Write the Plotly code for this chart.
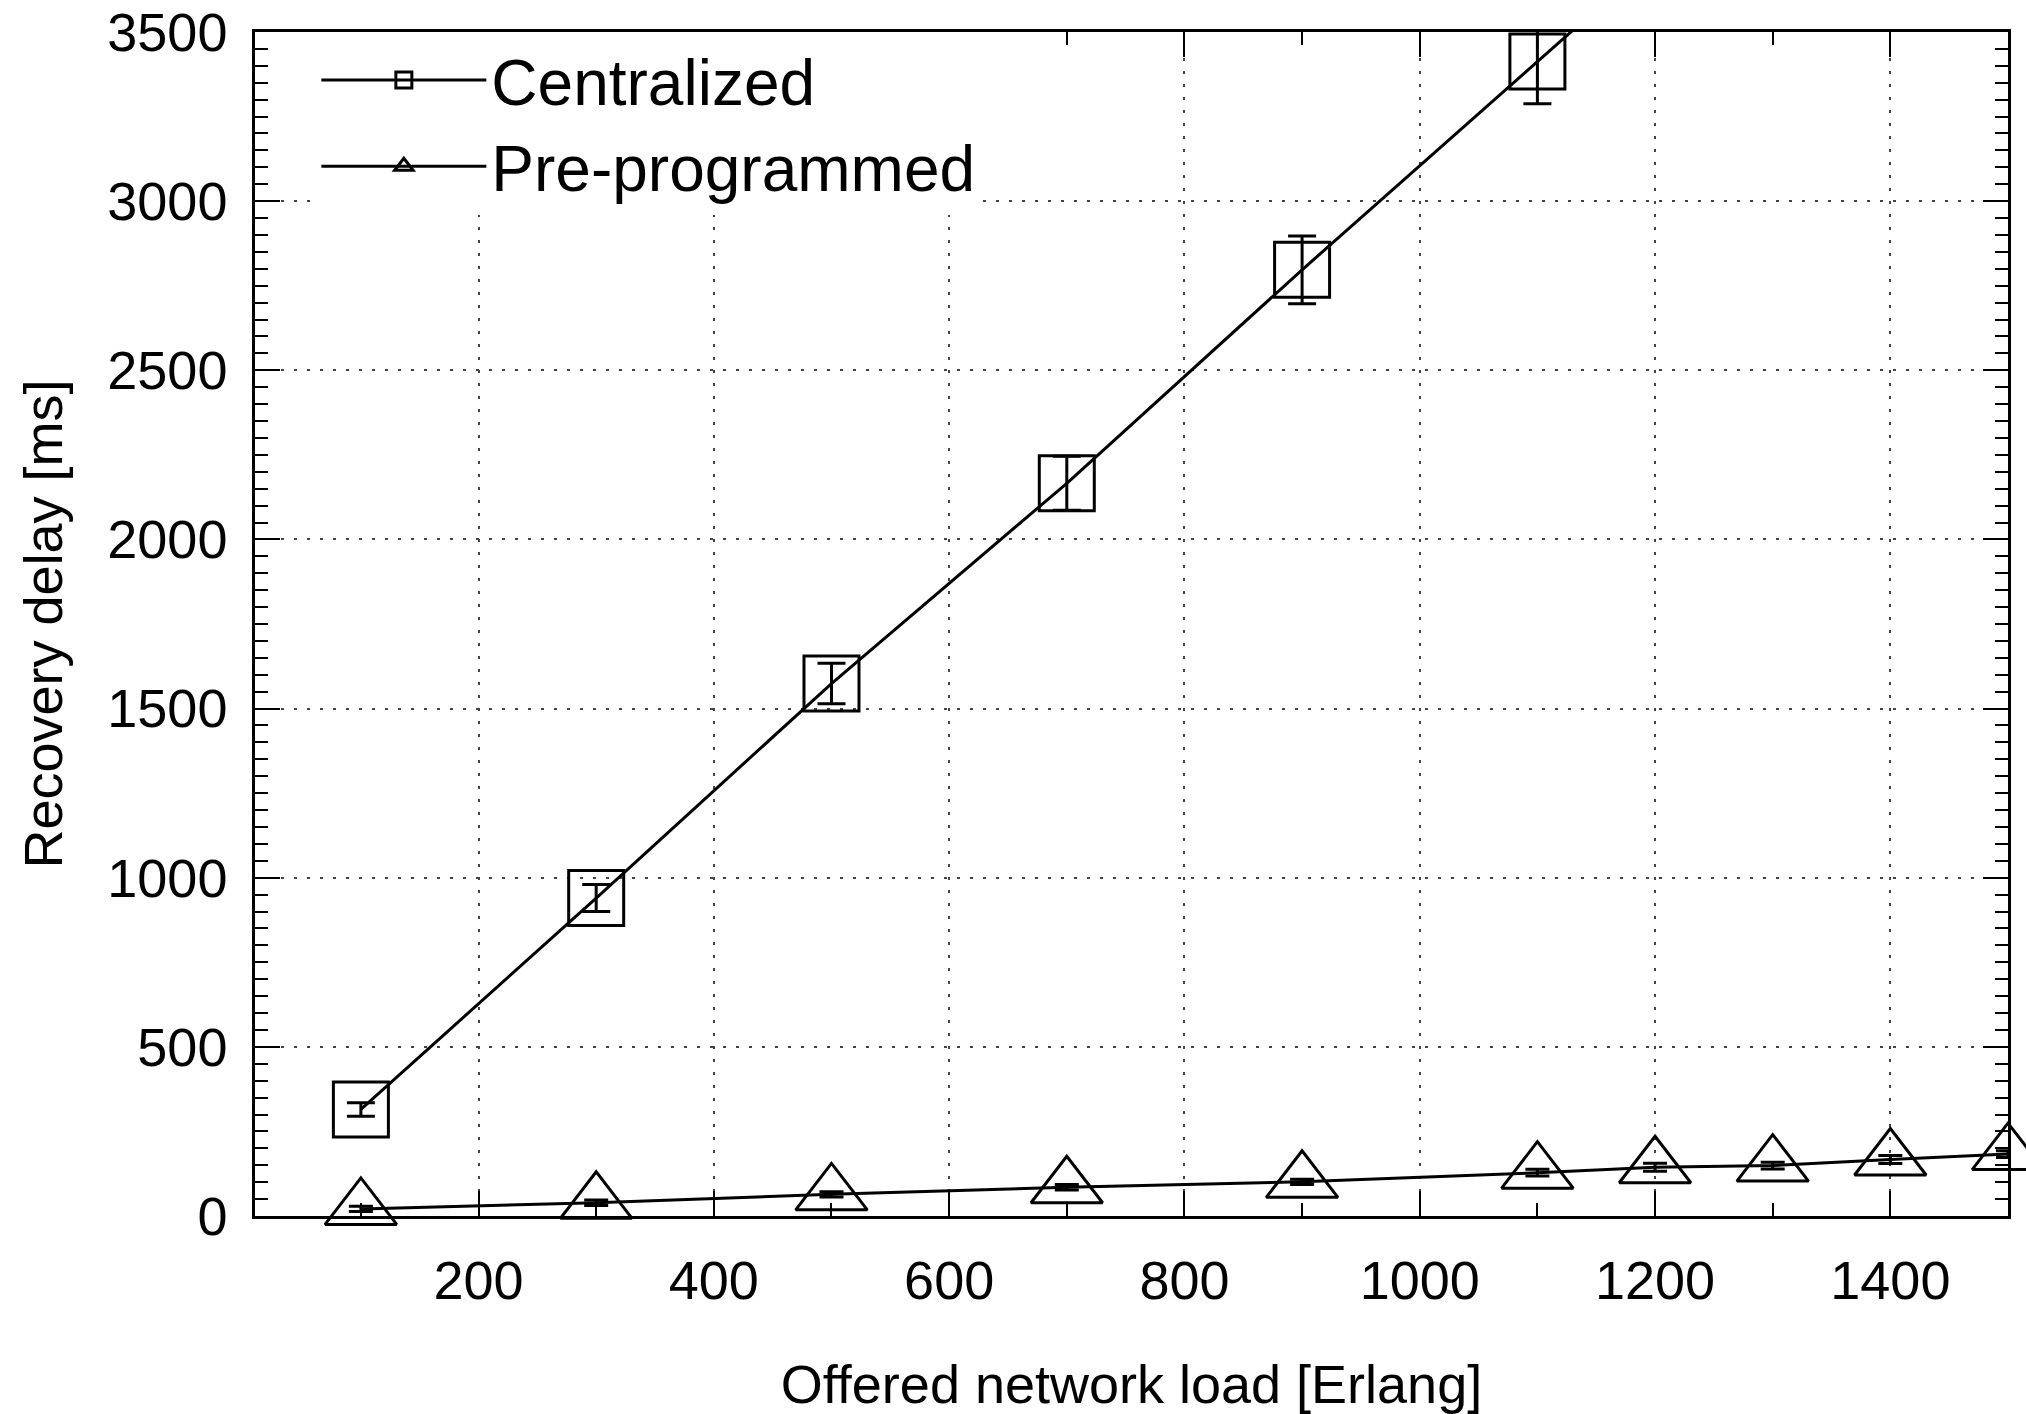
import plotly.graph_objects as go

# ---- data ----
load_centralized = [100, 300, 500, 700, 900, 1100, 1200]
delay_centralized = [315, 940, 1574, 2166, 2797, 3413, 3720]
err_centralized = [20, 40, 60, 80, 100, 125, 140]

load_preprog = [100, 300, 500, 700, 900, 1100, 1200, 1300, 1400, 1500]
delay_preprog = [21, 39, 64, 85, 101, 128, 144, 149, 167, 183]
err_preprog = [8, 8, 8, 8, 8, 10, 12, 10, 12, 10]

x_ticks = [200, 400, 600, 800, 1000, 1200, 1400]
y_ticks = [0, 500, 1000, 1500, 2000, 2500, 3000, 3500]

FONT = "Liberation Sans, Arial, Helvetica, sans-serif"
BLACK = "#000000"

fig = go.Figure()

fig.add_trace(go.Scatter(
    x=load_centralized, y=delay_centralized, name="Centralized",
    mode="lines+markers",
    line=dict(color=BLACK, width=3),
    marker=dict(symbol="square-open", size=55, color=BLACK,
                line=dict(color=BLACK, width=3)),
    error_y=dict(type="data", array=err_centralized, visible=True,
                 color=BLACK, thickness=3, width=14),
))

fig.add_trace(go.Scatter(
    x=load_preprog, y=delay_preprog, name="Pre-programmed",
    mode="lines+markers",
    line=dict(color=BLACK, width=3),
    marker=dict(symbol="triangle-up-open", size=62, color=BLACK,
                line=dict(color=BLACK, width=3)),
    error_y=dict(type="data", array=err_preprog, visible=True,
                 color=BLACK, thickness=3, width=12),
    cliponaxis=False,
))

axis_common = dict(
    showline=True, linecolor=BLACK, linewidth=2.5, mirror="ticks",
    ticks="inside", tickcolor=BLACK, tickwidth=2,
    showgrid=True, gridcolor="#444444", gridwidth=2, griddash="3px,10px",
    zeroline=False, automargin=False, ticklabeloverflow="allow",
)

fig.update_xaxes(
    **axis_common,
    range=[10, 1500],
    tickmode="array", tickvals=x_ticks, ticktext=[str(v) for v in x_ticks],
    ticklen=25,
    tickfont=dict(family=FONT, size=54, color=BLACK),
    minor=dict(dtick=100, tick0=0, ticks="inside", ticklen=13,
               tickcolor=BLACK, tickwidth=2, showgrid=False),
    ticklabelstandoff=15,
    title=dict(text="Offered network load [Erlang]",
               font=dict(family=FONT, size=54, color=BLACK), standoff=66),
)

fig.update_yaxes(
    **axis_common,
    range=[0, 3500],
    tickmode="array", tickvals=y_ticks, ticktext=[str(v) for v in y_ticks],
    ticklen=25,
    tickfont=dict(family=FONT, size=54, color=BLACK),
    minor=dict(dtick=50, tick0=0, ticks="inside", ticklen=13,
               tickcolor=BLACK, tickwidth=2, showgrid=False),
    ticklabelstandoff=14,
    title=dict(text="Recovery delay [ms]",
               font=dict(family=FONT, size=54, color=BLACK), standoff=28),
)

fig.update_layout(
    width=2026, height=1414, autosize=False,
    margin=dict(l=255, r=18, t=32, b=198),
    paper_bgcolor="white", plot_bgcolor="white",
    font=dict(family=FONT, color=BLACK),
    showlegend=True,
    legend=dict(
        x=0.035, y=1.0, xanchor="left", yanchor="top",
        bgcolor="white", borderwidth=0,
        font=dict(family=FONT, size=64, color=BLACK),
        itemwidth=165, tracegroupgap=0,
    ),
)

# remove the default 8px page margin so the figure fills the window exactly
fig.write_html(
    "out.html",
    config={"displayModeBar": False},
    post_script="document.body.style.margin='0';document.body.style.overflow='hidden';",
)
